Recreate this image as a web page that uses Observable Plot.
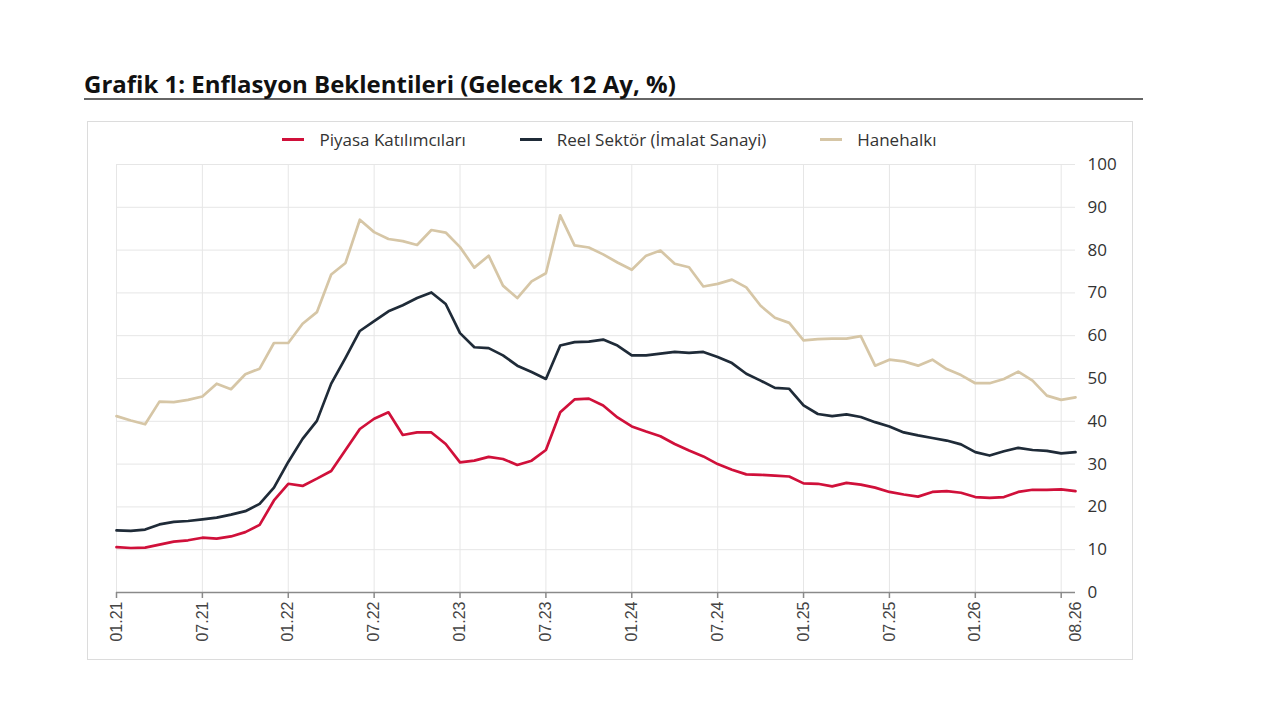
<!DOCTYPE html>
<html>
<head>
<meta charset="utf-8">
<script src="https://cdn.jsdelivr.net/npm/d3@7"></script>
<script src="https://cdn.jsdelivr.net/npm/@observablehq/plot@0.6"></script>
<style>
  html, body { margin: 0; padding: 0; background: #fff; }
  body { width: 1280px; height: 720px; position: relative; font-family: "Open Sans", sans-serif; }
  #title { position: absolute; left: 84px; top: 70px; width: 1059px; font-weight: 700; font-size: 24px; line-height: 28px; color: #111; border-bottom: 2px solid #666; padding-bottom: 0; white-space: nowrap; }
  #box { position: absolute; left: 87px; top: 121px; width: 1044px; height: 537px; border: 1px solid #dcdcdc; }
  #legend { position: absolute; top: 6px; left: 28px; width: 987px; display: flex; justify-content: center; align-items: center; font-size: 17px; color: #333; }
  .item { display: flex; align-items: center; margin: 0 27px; }
  .sw { width: 22px; height: 3px; margin-right: 15px; }
  #chart { position: absolute; left: 0; top: 30px; }
</style>
</head>
<body>
<div id="title">Grafik 1: Enflasyon Beklentileri (Gelecek 12 Ay, %)</div>
<div id="box">
  <div id="legend"></div>
  <div id="chart"></div>
</div>
<script>
const seriesNames = ["Piyasa Katılımcıları", "Reel Sektör (İmalat Sanayi)", "Hanehalkı"];
const seriesColors = ["#d0103a", "#1f2b38", "#d6c6a6"];

// Monthly, 01.21 ... 08.26 (68 months)
const piyasa = [10.6,10.4,10.5,11.2,11.9,12.2,12.8,12.6,13.1,14.1,15.8,21.5,25.4,24.9,26.6,28.4,33.3,
  38.2,40.6,42.1,36.8,37.4,37.4,34.7,30.4,30.8,31.7,31.2,29.8,30.8,33.3,42.1,45.1,45.3,
  43.7,40.9,38.8,37.6,36.5,34.7,33.2,31.8,30.0,28.7,27.6,27.5,27.3,27.1,25.5,25.4,24.8,
  25.6,25.2,24.5,23.5,22.9,22.4,23.5,23.7,23.3,22.3,22.1,22.3,23.5,24.0,24.0,24.1,23.7];
const reel = [14.5,14.4,14.7,15.9,16.5,16.7,17.1,17.5,18.2,19.0,20.7,24.5,30.5,35.9,40.1,48.8,54.8,
  61.1,63.4,65.7,67.1,68.8,70.1,67.4,60.6,57.3,57.1,55.4,53.0,51.5,49.9,57.7,58.5,58.6,
  59.1,57.7,55.4,55.4,55.8,56.2,56.0,56.2,55.0,53.6,51.1,49.5,47.8,47.6,43.7,41.7,41.2,
  41.6,41.0,39.8,38.8,37.4,36.7,36.1,35.5,34.6,32.8,32.0,33.0,33.8,33.3,33.1,32.5,32.8];
const hane = [41.2,40.2,39.3,44.6,44.5,45.0,45.8,48.8,47.5,51.0,52.3,58.3,58.3,62.8,65.5,74.3,77.0,
  87.1,84.2,82.6,82.1,81.2,84.7,84.1,80.7,75.9,78.7,71.7,68.8,72.7,74.6,88.1,81.1,80.6,
  79.0,77.1,75.4,78.7,79.9,76.8,76.0,71.5,72.1,73.1,71.3,67.0,64.2,63.0,58.9,59.2,59.3,
  59.3,59.9,53.0,54.4,54.0,53.0,54.4,52.2,50.8,48.9,48.9,49.9,51.6,49.5,46.0,45.0,45.6];

const tickMonths = [0,6,12,18,24,30,36,42,48,54,60,66];          // tick marks & vertical grid
const labelMonths = [0,6,12,18,24,30,36,42,48,54,60,67];         // label positions
const tickLabels = ["01.21","07.21","01.22","07.22","01.23","07.23","01.24","07.24","01.25","07.25","01.26","08.26"];
const yTicks = [0,10,20,30,40,50,60,70,80,90,100];

// legend
const legend = document.getElementById("legend");
seriesNames.forEach((n, k) => {
  const it = document.createElement("div"); it.className = "item";
  const sw = document.createElement("div"); sw.className = "sw"; sw.style.background = seriesColors[k];
  const tx = document.createElement("span"); tx.textContent = n;
  it.appendChild(sw); it.appendChild(tx); legend.appendChild(it);
});

const allSeries = [piyasa, reel, hane];
const rows = [];
allSeries.forEach((arr, k) => arr.forEach((v, i) => rows.push({i, v, s: seriesNames[k]})));
const labelOf = new Map(labelMonths.map((m, k) => [m, tickLabels[k]]));

const chart = Plot.plot({
  width: 1044,
  height: 500,
  marginLeft: 28,
  marginRight: 57,
  marginTop: 12,
  marginBottom: 60,
  style: { fontFamily: "Open Sans", fontSize: "16px", color: "#333", background: "transparent", overflow: "visible" },
  x: { domain: [0, 67], axis: null },
  y: { domain: [0, 100], axis: null },
  color: { domain: seriesNames, range: seriesColors },
  marks: [
    Plot.gridY(yTicks, { stroke: "#e6e6e6", strokeOpacity: 1 }),
    Plot.gridX(tickMonths, { stroke: "#e6e6e6", strokeOpacity: 1 }),
    Plot.ruleY([0], { stroke: "#8a8a8a", strokeWidth: 1.5 }),
    Plot.axisX({ ticks: tickMonths, tickSize: 6, tickFormat: () => "", label: null, stroke: "#8a8a8a", strokeWidth: 1.5 }),
    Plot.axisX({ ticks: labelMonths, tickSize: 0, tickPadding: 9, tickRotate: -90, label: null,
      tickFormat: d => labelOf.get(d), fontFamily: "Liberation Sans", fontSize: 16, fill: "#444" }),
    Plot.axisY({ anchor: "right", ticks: yTicks, tickSize: 0, tickPadding: 12, fontSize: 17, fill: "#333", label: null }),
    Plot.line(rows, { x: "i", y: "v", z: "s", stroke: "s", strokeWidth: 2.7, strokeLinejoin: "round" })
  ]
});
document.getElementById("chart").appendChild(chart);
</script>
</body>
</html>
